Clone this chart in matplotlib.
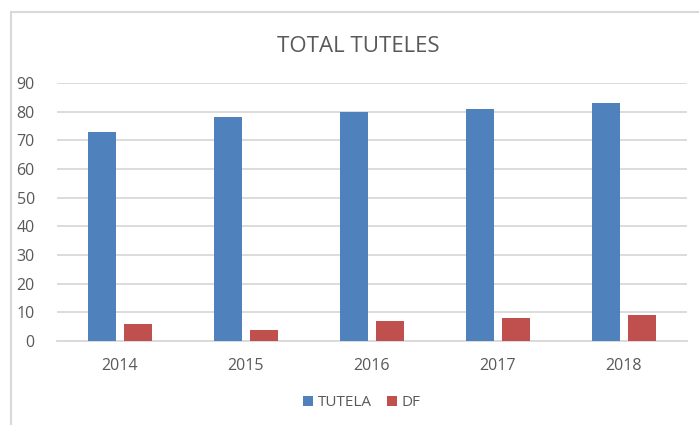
import matplotlib
matplotlib.use("Agg")
import matplotlib.pyplot as plt
import numpy as np
from matplotlib.lines import Line2D
from matplotlib.patches import Patch

years = ["2014", "2015", "2016", "2017", "2018"]
tutela = [73, 78, 80, 81, 83]
df = [6, 4, 7, 8, 9]
series_names = ["TUTELA", "DF"]
title = "TOTAL TUTELES"

plt.rcParams['font.family'] = ['Open Sans', 'DejaVu Sans']
W, H = 699, 425
fig = plt.figure(figsize=(W/100, H/100), dpi=100)
fig.patch.set_facecolor("white")

ax = fig.add_axes([57/W, 1-341/H, (687-57)/W, (341-83)/H])
x = np.arange(len(years))
bw = 0.222
off = 0.143
blue = "#4F81BD"
red = "#C0504D"
ax.bar(x - off, tutela, width=bw, color=blue, zorder=3)
ax.bar(x + off, df, width=bw, color=red, zorder=3)

ax.set_xlim(-0.5, len(years) - 0.5)
ax.set_ylim(0, 90)
ax.set_yticks(range(0, 91, 10))
ax.set_xticks(x)
ax.set_xticklabels(years)
txtc = "#595959"
ax.tick_params(axis='both', length=0, labelsize=11.5, colors=txtc)
ax.tick_params(axis='y', pad=16)
ax.tick_params(axis='x', pad=12)
ax.grid(axis='y', color="#D9D9D9", linewidth=1.3, zorder=0)
for s in ["top", "right", "left"]:
    ax.spines[s].set_visible(False)
ax.spines["bottom"].set_color("#D9D9D9")
ax.spines["bottom"].set_linewidth(1.3)
ax.set_axisbelow(True)

fig.text(358/W, 1-46/H, title, ha="center", va="center", fontsize=16, color=txtc)

handles = [Patch(facecolor=blue), Patch(facecolor=red)]
fig.legend(handles, series_names, loc="center", bbox_to_anchor=(362/W, 1-403/H),
           ncol=2, frameon=False, fontsize=11, labelcolor=txtc,
           handlelength=0.65, handleheight=0.65, handletextpad=0.3, columnspacing=1.0)

fc = "#D9D9D9"
fig.add_artist(Line2D([10.5/W, 10.5/W], [0, 1-12/H], color=fc, linewidth=1.5, transform=fig.transFigure))
fig.add_artist(Line2D([10.5/W, 1], [1-12/H, 1-12/H], color=fc, linewidth=1.5, transform=fig.transFigure))

fig.savefig("out.png", dpi=100)
